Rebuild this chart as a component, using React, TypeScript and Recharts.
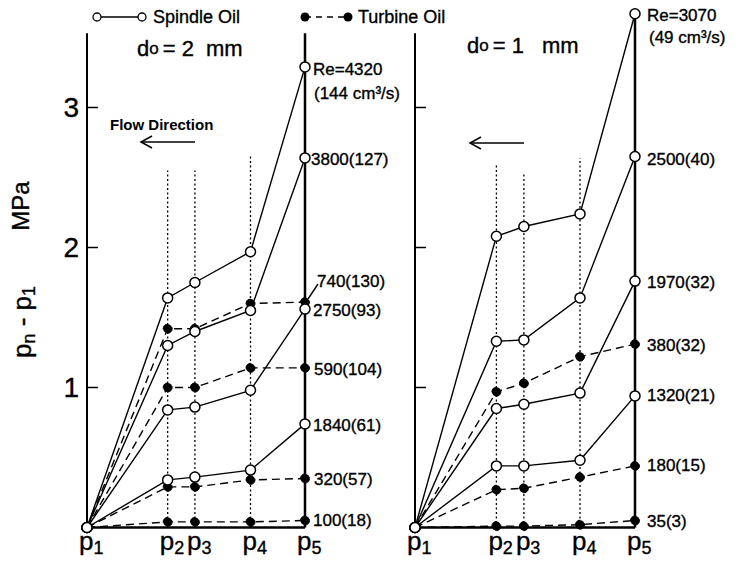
import React from 'react';
import { LineChart, Line, XAxis, YAxis, ReferenceLine, ReferenceDot } from 'recharts';

const FONT = '"Liberation Sans", Arial, sans-serif';

// pressure taps along the pipe and their relative positions
const TAPS = ['1', '2', '3', '4', '5'];
const TAP_POS = [0, 37, 49.5, 75, 100];
const Y_TICKS = [1, 2, 3];

// d0 = 2 mm, spindle oil (open circles)
const spindle2_4320 = [0, 1.64, 1.75, 1.97, 3.29];
const spindle2_3800 = [0, 1.3, 1.4, 1.55, 2.64];
const spindle2_2750 = [0, 0.84, 0.86, 0.98, 1.56];
const spindle2_1840 = [0, 0.34, 0.36, 0.41, 0.74];
// d0 = 2 mm, turbine oil (filled)
const turbine2_740 = [0, 1.42, 1.42, 1.6, 1.61];
const turbine2_590 = [0, 1.0, 1.0, 1.14, 1.14];
const turbine2_320 = [0, 0.29, 0.29, 0.34, 0.35];
const turbine2_100 = [0, 0.04, 0.04, 0.04, 0.05];

// d0 = 1 mm
const spindle1_3070 = [0, 2.08, 2.15, 2.24, 3.67];
const spindle1_2500 = [0, 1.33, 1.34, 1.64, 2.65];
const spindle1_1970 = [0, 0.85, 0.88, 0.96, 1.76];
const spindle1_1320 = [0, 0.44, 0.44, 0.48, 0.94];
const turbine1_380 = [0, 0.97, 1.03, 1.22, 1.31];
const turbine1_180 = [0, 0.27, 0.28, 0.36, 0.44];
const turbine1_35 = [0, 0.01, 0.01, 0.02, 0.05];

// end labels: text and the level (MPa) they sit at
const labels2 = [
  { text: 'Re=4320', at: 3.27, dx: 8 },
  { text: '(144 cm³/s)', at: 3.1, dx: 9 },
  { text: '3800(127)', at: 2.63, dx: 6 },
  { text: '740(130)', at: 1.76, dx: 12 },
  { text: '2750(93)', at: 1.55, dx: 8 },
  { text: '590(104)', at: 1.13, dx: 9 },
  { text: '1840(61)', at: 0.73, dx: 8 },
  { text: '320(57)', at: 0.34, dx: 9 },
  { text: '100(18)', at: 0.05, dx: 8 },
];
const labels1 = [
  { text: 'Re=3070', at: 3.66, dx: 12 },
  { text: '(49 cm³/s)', at: 3.5, dx: 14 },
  { text: '2500(40)', at: 2.63, dx: 12 },
  { text: '1970(32)', at: 1.75, dx: 12 },
  { text: '380(32)', at: 1.3, dx: 12 },
  { text: '1320(21)', at: 0.94, dx: 12 },
  { text: '180(15)', at: 0.44, dx: 12 },
  { text: '35(3)', at: 0.04, dx: 12 },
];

// heights of the dotted guides at p2, p3, p4
const guides2 = [2.55, 2.55, 2.65];
const guides1 = [2.59, 2.54, 2.64];

const INK = { fill: '#000', stroke: '#000', strokeWidth: 0.35 };

const rows = (spindle: number[][], turbine: number[][]) =>
  TAP_POS.map((x, i) => {
    const r: any = { x };
    spindle.forEach((s, k) => (r['s' + k] = s[i]));
    turbine.forEach((t, k) => (r['t' + k] = t[i]));
    return r;
  });

const TapTick = ({ x, y, payload }: any) => {
  const n = TAPS[TAP_POS.indexOf(payload.value)];
  return (
    <text x={x - 8} y={y + 14} fontSize={26} fontFamily={FONT} {...INK}>
      p<tspan fontSize={18} dy={4}>{n}</tspan>
    </text>
  );
};

const NumTick = ({ x, y, payload }: any) => (
  <text x={x} y={y} textAnchor="end" dominantBaseline="central" fontSize={28} fontFamily={FONT} {...INK}>
    {payload.value}
  </text>
);

const endLabel = (text: string, dx: number) => (p: any) => (
  <text x={p.viewBox.x + dx} y={p.viewBox.y} dominantBaseline="central" fontSize={17} fontFamily={FONT} {...INK}>
    {text}
  </text>
);

interface PanelProps {
  spindle: number[][];
  turbine: number[][];
  labels: { text: string; at: number; dx: number }[];
  guides: number[];
  p5Top: number;
  left: number;
  right: number;
  numbers: boolean;
}

const Panel: React.FC<PanelProps> = ({ spindle, turbine, labels, guides, p5Top, left, right, numbers }) => {
  const data = rows(spindle, turbine);
  return (
    <LineChart
      width={752}
      height={565}
      data={data}
      margin={{ top: 9.5, right, bottom: 7.5, left }}
      style={{ position: 'absolute', left: 0, top: 0 }}
    >
      <XAxis
        type="number"
        dataKey="x"
        domain={[0, 100]}
        ticks={TAP_POS}
        height={30}
        tickLine={false}
        axisLine={{ stroke: '#000', strokeWidth: 2.5 }}
        tick={<TapTick />}
      />
      <YAxis
        type="number"
        domain={[0, 3.7]}
        ticks={Y_TICKS}
        width={30}
        axisLine={false}
        tickLine={false}
        tick={numbers ? <NumTick /> : false}
      />
      {guides.map((g, i) => (
        <ReferenceLine
          key={'g' + i}
          segment={[{ x: TAP_POS[i + 1], y: 0 }, { x: TAP_POS[i + 1], y: g }]}
          stroke="#000"
          strokeWidth={1.3}
          strokeDasharray="2 2.5"
        />
      ))}
      <ReferenceLine segment={[{ x: 0, y: 0 }, { x: 0, y: 3.53 }]} stroke="#000" strokeWidth={2} />
      <ReferenceLine segment={[{ x: 100, y: 0 }, { x: 100, y: p5Top }]} stroke="#000" strokeWidth={2.5} />
      {Y_TICKS.map((t) => (
        <ReferenceLine key={'t' + t} segment={[{ x: 0, y: t }, { x: 5, y: t }]} stroke="#000" strokeWidth={1.5} />
      ))}
      {turbine.map((_, k) => (
        <Line
          key={'t' + k}
          dataKey={'t' + k}
          type="linear"
          stroke="#000"
          strokeWidth={1.4}
          strokeDasharray="8 5"
          dot={{ r: 4.5, fill: '#000', stroke: '#000', strokeWidth: 1 }}
          isAnimationActive={false}
        />
      ))}
      {spindle.map((_, k) => (
        <Line
          key={'s' + k}
          dataKey={'s' + k}
          type="linear"
          stroke="#000"
          strokeWidth={1.4}
          dot={{ r: 5, fill: '#fff', stroke: '#000', strokeWidth: 1.5 }}
          isAnimationActive={false}
        />
      ))}
      {labels.map((l, i) => (
        <ReferenceDot
          key={'l' + i}
          x={100}
          y={l.at}
          r={0}
          stroke="none"
          fill="none"
          ifOverflow="visible"
          label={endLabel(l.text, l.dx)}
        />
      ))}
    </LineChart>
  );
};

const Arrow = ({ x1, x2, y }: { x1: number; x2: number; y: number }) => (
  <g stroke="#000" strokeWidth={1.5} fill="none">
    <line x1={x1} y1={y} x2={x2} y2={y} />
    <polyline points={`${x2 + 11},${y - 6} ${x2},${y} ${x2 + 11},${y + 6}`} />
  </g>
);

const Overlay = () => (
  <svg width={752} height={565} style={{ position: 'absolute', left: 0, top: 0, pointerEvents: 'none' }} fontFamily={FONT}>
    {/* legend */}
    <line x1={97} y1={17} x2={142} y2={17} stroke="#000" strokeWidth={1.3} />
    <circle cx={97} cy={17} r={4} fill="#fff" stroke="#000" strokeWidth={1.3} />
    <circle cx={142} cy={17} r={4} fill="#fff" stroke="#000" strokeWidth={1.3} />
    <text x={153} y={17} dominantBaseline="central" fontSize={18} {...INK}>Spindle Oil</text>
    <line x1={305} y1={17} x2={348} y2={17} stroke="#000" strokeWidth={1.3} strokeDasharray="6 5" />
    <circle cx={305} cy={17} r={4.5} fill="#000" />
    <circle cx={348} cy={17} r={4.5} fill="#000" />
    <text x={358} y={17} dominantBaseline="central" fontSize={18} {...INK}>Turbine Oil</text>

    {/* leader from the 740(130) label to its point */}
    <line x1={308} y1={299} x2={318} y2={284} stroke="#000" strokeWidth={1.4} />

    <text x={137} y={48} dominantBaseline="central" fontSize={22} {...INK}>
      d<tspan fontSize={17}>o</tspan>
      <tspan dx={4}>= 2</tspan>
      <tspan dx={12}>mm</tspan>
    </text>
    <text x={467} y={45} dominantBaseline="central" fontSize={22} {...INK}>
      d<tspan fontSize={17}>o</tspan>
      <tspan dx={4}>= 1</tspan>
      <tspan dx={18}>mm</tspan>
    </text>

    <text x={110} y={124} dominantBaseline="central" fontSize={15} fontWeight="bold" fill="#000">Flow Direction</text>
    <Arrow x1={195} x2={141} y={142} />
    <Arrow x1={524} x2={470} y={143} />

    {/* y label */}
    <text transform="translate(31,322) rotate(-90)" textAnchor="middle" fontSize={26} {...INK}>
      p<tspan fontSize={18} dy={4}>n</tspan>
      <tspan dy={-4}> - p</tspan>
      <tspan fontSize={18} dy={4}>1</tspan>
    </text>
    <text transform="translate(29,206) rotate(-90)" textAnchor="middle" fontSize={24} {...INK}>MPa</text>
  </svg>
);

export default function App() {
  return (
    <div style={{ position: 'absolute', left: 0, top: 0, width: 752, height: 565, background: '#fff' }}>
      <Panel
        spindle={[spindle2_4320, spindle2_3800, spindle2_2750, spindle2_1840]}
        turbine={[turbine2_740, turbine2_590, turbine2_320, turbine2_100]}
        labels={labels2}
        guides={guides2}
        p5Top={3.53}
        left={57}
        right={447}
        numbers
      />
      <Panel
        spindle={[spindle1_3070, spindle1_2500, spindle1_1970, spindle1_1320]}
        turbine={[turbine1_380, turbine1_180, turbine1_35]}
        labels={labels1}
        guides={guides1}
        p5Top={3.67}
        left={385}
        right={117}
        numbers={false}
      />
      <Overlay />
    </div>
  );
}
